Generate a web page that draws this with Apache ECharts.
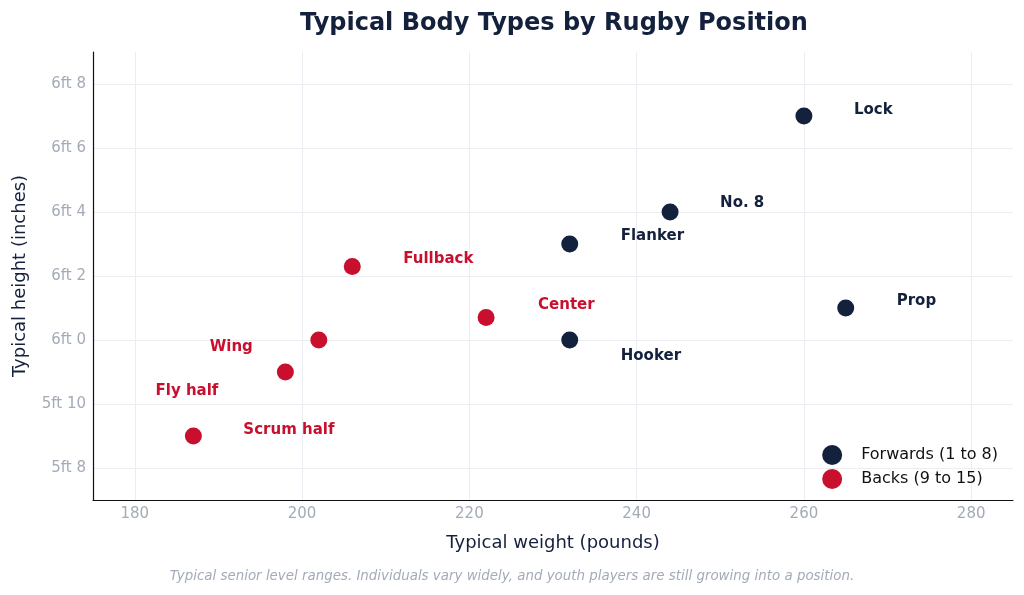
<!DOCTYPE html>
<html>
<head>
<meta charset="utf-8">
<script src="https://cdn.jsdelivr.net/npm/echarts@6/dist/echarts.min.js"></script>
<style>
  html, body { margin: 0; padding: 0; background: #ffffff; }
  #chart { width: 1024px; height: 595px; }
</style>
</head>
<body>
<div id="chart"></div>
<script>
// positions and typical size (weight lb, height in)
const forwardNames = ['Lock', 'No. 8', 'Flanker', 'Prop', 'Hooker']
const forwardWeights = [260, 244, 232, 265, 232]
const forwardHeights = [79, 76, 75, 73, 72]

const backNames = ['Fullback', 'Center', 'Wing', 'Fly half', 'Scrum half']
const backWeights = [206, 222, 202, 198, 187]
const backHeights = [74.3, 72.7, 72, 71, 69]

const xTicks = [180, 200, 220, 240, 260, 280]
const yTicks = [68, 70, 72, 74, 76, 78, 80]

const NAVY = '#14213d'
const RED = '#c8102e'
const FONT = 'DejaVu Sans'

// where each label sits relative to its dot
const labelPlacement = {
  'Lock': { align: 'left', offset: [50, -6] },
  'No. 8': { align: 'left', offset: [50, -9] },
  'Flanker': { align: 'left', offset: [51, -8] },
  'Prop': { align: 'left', offset: [51, -7] },
  'Hooker': { align: 'left', offset: [51, 16] },
  'Fullback': { align: 'left', offset: [51, -7] },
  'Center': { align: 'left', offset: [52, -12] },
  'Wing': { align: 'right', offset: [-66, 7] },
  'Fly half': { align: 'right', offset: [-67, 19] },
  'Scrum half': { align: 'left', offset: [50, -6] }
}

const toPoints = (names, xs, ys, color) => names.map((name, i) => {
  const p = labelPlacement[name]
  return {
    name,
    value: [xs[i], ys[i]],
    label: {
      show: true,
      position: 'inside',
      align: p.align,
      verticalAlign: 'middle',
      offset: p.offset,
      formatter: '{b}',
      color,
      fontFamily: FONT,
      fontWeight: 'bold',
      fontSize: 15
    }
  }
})

const formatHeight = v => `${Math.floor(v / 12)}ft ${v % 12}`

const chart = echarts.init(document.getElementById('chart'), null, { renderer: 'canvas' })

chart.setOption({
  backgroundColor: '#ffffff',
  animation: false,
  title: {
    text: 'Typical Body Types by Rugby Position',
    left: 549,
    textAlign: 'center',
    top: 7,
    textStyle: { color: NAVY, fontFamily: FONT, fontWeight: 'bold', fontSize: 24 }
  },
  grid: { left: 93, right: 11, top: 52, bottom: 95, outerBoundsMode: 'none' },
  legend: {
    orient: 'vertical',
    right: 21,
    bottom: 101,
    itemWidth: 20,
    itemHeight: 20,
    itemGap: 4,
    icon: 'circle',
    textStyle: { color: '#111111', fontFamily: FONT, fontSize: 16, padding: [0, 0, 0, 14] },
    data: ['Forwards (1 to 8)', 'Backs (9 to 15)']
  },
  xAxis: {
    type: 'value',
    min: 175,
    max: 285,
    name: 'Typical weight (pounds)',
    nameLocation: 'middle',
    nameGap: 34,
    nameTextStyle: { color: NAVY, fontFamily: FONT, fontSize: 18 },
    axisLine: { show: true, lineStyle: { color: '#111111', width: 1.2 } },
    axisTick: { show: false, customValues: xTicks },
    axisLabel: { customValues: xTicks, color: '#a3abb9', fontFamily: FONT, fontSize: 15, margin: 7 },
    splitLine: { show: true, lineStyle: { color: '#ecedf2', width: 1 } }
  },
  yAxis: {
    type: 'value',
    min: 67,
    max: 81,
    name: 'Typical height (inches)',
    nameLocation: 'middle',
    nameGap: 64,
    nameTextStyle: { color: NAVY, fontFamily: FONT, fontSize: 18 },
    axisLine: { show: true, lineStyle: { color: '#111111', width: 1.2 } },
    axisTick: { show: false, customValues: yTicks },
    axisLabel: {
      customValues: yTicks,
      formatter: formatHeight,
      color: '#a3abb9',
      fontFamily: FONT,
      fontSize: 15,
      margin: 7
    },
    splitLine: { show: true, lineStyle: { color: '#ecedf2', width: 1 } }
  },
  series: [
    {
      name: 'Forwards (1 to 8)',
      type: 'scatter',
      symbolSize: 17,
      itemStyle: { color: NAVY, opacity: 1 },
      data: toPoints(forwardNames, forwardWeights, forwardHeights, NAVY)
    },
    {
      name: 'Backs (9 to 15)',
      type: 'scatter',
      symbolSize: 17,
      itemStyle: { color: RED, opacity: 1 },
      data: toPoints(backNames, backWeights, backHeights, RED)
    }
  ],
  graphic: [
    {
      type: 'text',
      left: 'center',
      top: 570,
      style: {
        text: 'Typical senior level ranges. Individuals vary widely, and youth players are still growing into a position.',
        fill: '#a3abb9',
        font: 'italic 13.4px "DejaVu Sans"'
      }
    }
  ]
})
</script>
</body>
</html>
